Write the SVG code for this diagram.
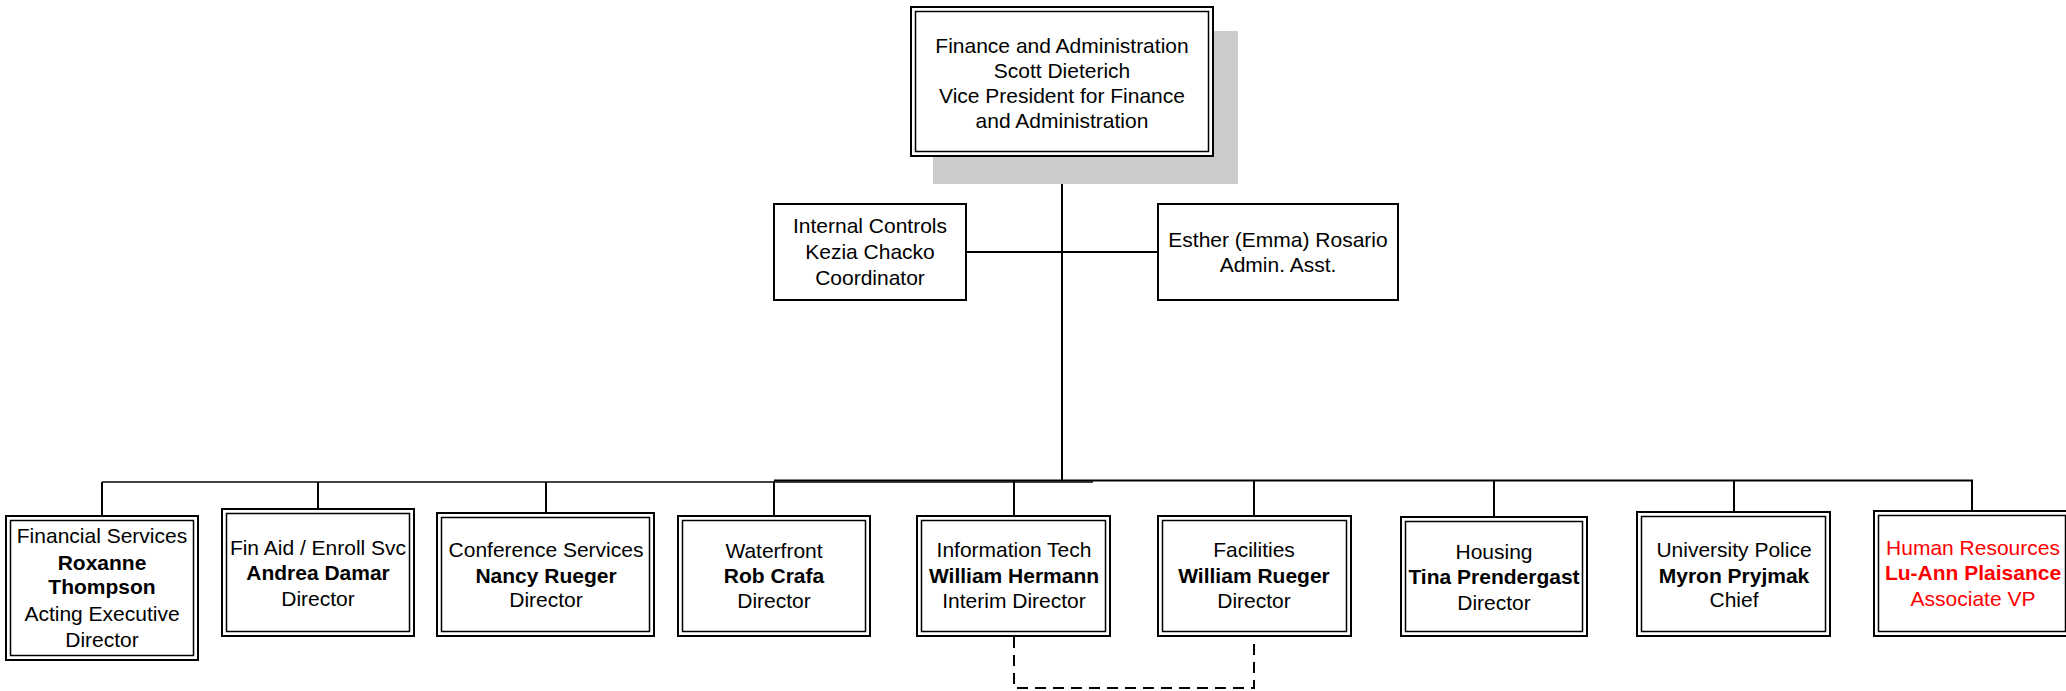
<svg xmlns="http://www.w3.org/2000/svg" width="2066" height="691" viewBox="0 0 2066 691">
<style>
.o{fill:#fff;stroke:#000;stroke-width:2}
.i{fill:none;stroke:#000;stroke-width:1.5}
.s{fill:#fff;stroke:#000;stroke-width:2}
text{font-family:"Liberation Sans",Arial,sans-serif;font-size:21px;text-anchor:middle;fill:#000}
.b{font-weight:bold}
.r{fill:#ff0000}
.ln{fill:none;stroke:#000;stroke-width:2}
.dash{fill:none;stroke:#000;stroke-width:2;stroke-dasharray:11 7}
</style>
<rect width="2066" height="691" fill="#fff"/>
<g id="connectors">
<line class="ln" x1="1062" y1="156" x2="1062" y2="481"/>
<line class="ln" x1="966" y1="252" x2="1158" y2="252"/>
<line x1="102" y1="482" x2="1093" y2="482" stroke="#444" stroke-width="2"/>
<line class="ln" x1="774" y1="480.5" x2="1973" y2="480.5"/>
<polyline class="ln" points="102,482 102,516"/>
<line class="ln" x1="318" y1="482" x2="318" y2="509"/>
<line class="ln" x1="546" y1="482" x2="546" y2="513"/>
<line class="ln" x1="774" y1="481" x2="774" y2="516"/>
<line class="ln" x1="1014" y1="481" x2="1014" y2="516"/>
<line class="ln" x1="1254" y1="481" x2="1254" y2="516"/>
<line class="ln" x1="1494" y1="481" x2="1494" y2="517"/>
<line class="ln" x1="1734" y1="481" x2="1734" y2="512"/>
<line class="ln" x1="1972" y1="480" x2="1972" y2="511"/>
<path class="dash" d="M1014 637 V688 H1254 V637"/>
</g>
<g id="vp">
<rect x="933" y="31" width="305" height="153" fill="#cccccc"/>
<rect class="o" x="911" y="7" width="302" height="149"/>
<rect class="i" x="915.5" y="11.5" width="293" height="140"/>
<text x="1062" y="53">Finance and Administration</text>
<text x="1062" y="78">Scott Dieterich</text>
<text x="1062" y="103">Vice President for Finance</text>
<text x="1062" y="128">and Administration</text>
</g>
<g id="internal">
<rect class="s" x="774" y="204" width="192" height="96"/>
<text x="870" y="233">Internal Controls</text>
<text x="870" y="259">Kezia Chacko</text>
<text x="870" y="285">Coordinator</text>
</g>
<g id="esther">
<rect class="s" x="1158" y="204" width="240" height="96"/>
<text x="1278" y="247">Esther (Emma) Rosario</text>
<text x="1278" y="272">Admin. Asst.</text>
</g>
<g id="financial">
<rect class="o" x="6" y="516" width="192" height="144"/>
<rect class="i" x="10.5" y="520.5" width="183" height="135"/>
<text x="102" y="543">Financial Services</text>
<text x="102" y="570" class="b">Roxanne</text>
<text x="102" y="594" class="b">Thompson</text>
<text x="102" y="621">Acting Executive</text>
<text x="102" y="647">Director</text>
</g>
<g id="finaid">
<rect class="o" x="222" y="509" width="192" height="127"/>
<rect class="i" x="226.5" y="513.5" width="183" height="118"/>
<text x="318" y="555">Fin Aid / Enroll Svc</text>
<text x="318" y="580" class="b">Andrea Damar</text>
<text x="318" y="606">Director</text>
</g>
<g id="conference">
<rect class="o" x="437" y="513" width="217" height="123"/>
<rect class="i" x="441.5" y="517.5" width="208" height="114"/>
<text x="546" y="557">Conference Services</text>
<text x="546" y="583" class="b">Nancy Rueger</text>
<text x="546" y="607">Director</text>
</g>
<g id="waterfront">
<rect class="o" x="678" y="516" width="192" height="120"/>
<rect class="i" x="682.5" y="520.5" width="183" height="111"/>
<text x="774" y="558">Waterfront</text>
<text x="774" y="583" class="b">Rob Crafa</text>
<text x="774" y="608">Director</text>
</g>
<g id="it">
<rect class="o" x="917" y="516" width="193" height="120"/>
<rect class="i" x="921.5" y="520.5" width="184" height="111"/>
<text x="1014" y="557">Information Tech</text>
<text x="1014" y="583" class="b">William Hermann</text>
<text x="1014" y="608">Interim Director</text>
</g>
<g id="facilities">
<rect class="o" x="1158" y="516" width="193" height="120"/>
<rect class="i" x="1162.5" y="520.5" width="184" height="111"/>
<text x="1254" y="557">Facilities</text>
<text x="1254" y="583" class="b">William Rueger</text>
<text x="1254" y="608">Director</text>
</g>
<g id="housing">
<rect class="o" x="1401" y="517" width="186" height="119"/>
<rect class="i" x="1405.5" y="521.5" width="177" height="110"/>
<text x="1494" y="559">Housing</text>
<text x="1494" y="584" class="b">Tina Prendergast</text>
<text x="1494" y="610">Director</text>
</g>
<g id="police">
<rect class="o" x="1637" y="512" width="193" height="124"/>
<rect class="i" x="1641.5" y="516.5" width="184" height="115"/>
<text x="1734" y="557">University Police</text>
<text x="1734" y="583" class="b">Myron Pryjmak</text>
<text x="1734" y="607">Chief</text>
</g>
<g id="hr">
<rect class="o" x="1874" y="511" width="196" height="125"/>
<rect class="i" x="1878.5" y="515.5" width="187" height="116"/>
<text x="1973" y="555" class="r">Human Resources</text>
<text x="1973" y="580" class="b r">Lu-Ann Plaisance</text>
<text x="1973" y="606" class="r">Associate VP</text>
</g>
</svg>
